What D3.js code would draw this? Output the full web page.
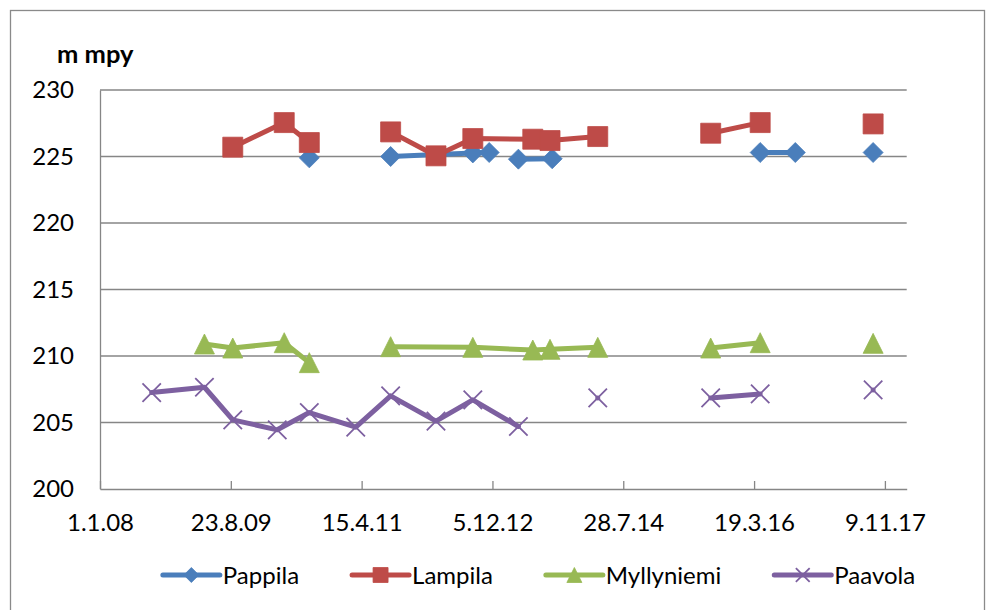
<!DOCTYPE html>
<html><head><meta charset="utf-8">
<script src="https://cdn.jsdelivr.net/npm/d3@7"></script>
<style>
html,body{margin:0;padding:0;background:#fff;}
svg text{font-family:Lato,"Liberation Sans",sans-serif;fill:#000;}
</style></head>
<body><svg id="c" width="990" height="610"></svg>
<script>
// ---- data ----
const seriesNames = ["Pappila","Lampila","Myllyniemi","Paavola"];
const seriesColors = ["#4A7EBB","#BE4B48","#98B954","#7D60A0"];
const xTickLabels = ["1.1.08","23.8.09","15.4.11","5.12.12","28.7.14","19.3.16","9.11.17"];
const yTicks = [200,205,210,215,220,225,230];
const yUnit = "m mpy";

const pappilaDates  = ["2010-08-18",null,"2011-08-26","2012-09-06","2012-11-20",null,"2013-04-03","2013-09-05",null,"2016-04-16","2016-09-24",null,"2017-09-16"];
const pappilaValues = [224.9,null,225.0,225.27,225.3,null,224.8,224.83,null,225.3,225.3,null,225.3];

const lampilaDates  = ["2009-09-01","2010-04-25","2010-08-18",null,"2011-08-26","2012-03-21","2012-09-06","2013-06-08","2013-08-26","2014-04-02",null,"2015-09-02","2016-04-16",null,"2017-09-16"];
const lampilaValues = [225.7,227.55,226.05,null,226.85,225.05,226.35,226.3,226.2,226.5,null,226.75,227.55,null,227.45];

const myllyniemiDates  = ["2009-04-24","2009-09-01","2010-04-25","2010-08-18",null,"2011-08-26","2012-09-06","2013-06-08","2013-08-26","2014-04-02",null,"2015-09-02","2016-04-16",null,"2017-09-16"];
const myllyniemiValues = [210.9,210.6,211.0,209.5,null,210.7,210.65,210.45,210.5,210.65,null,210.6,211.0,null,210.95];

const paavolaDates  = ["2008-08-25","2009-04-24","2009-09-01","2010-03-24","2010-08-18","2011-03-19","2011-08-26","2012-03-21","2012-09-06","2013-04-03",null,"2014-04-02",null,"2015-09-02","2016-04-16",null,"2017-09-16"];
const paavolaValues = [207.25,207.65,205.2,204.45,205.75,204.65,207.0,205.1,206.7,204.7,null,206.85,null,206.85,207.15,null,207.45];

// ---- build ----
const parseISO = d3.utcParse("%Y-%m-%d");
const parseTick = d3.utcParse("%d.%m.%y");
function zip(dates, values){ return dates.map((d,i)=>({d: d==null?null:parseISO(d), v: values[i]})); }
const series = [
  zip(pappilaDates, pappilaValues),
  zip(lampilaDates, lampilaValues),
  zip(myllyniemiDates, myllyniemiValues),
  zip(paavolaDates, paavolaValues)
];

const svg = d3.select("#c");
const plot = {left:100, right:906.7, top:90, bottom:489};
const FS = 24;

// outer frame
svg.append("rect").attr("x",10.5).attr("y",10.5).attr("width",974).attr("height",610)
  .attr("fill","none").attr("stroke","#8a8a8a").attr("stroke-width",1.3);

const tickDates = xTickLabels.map(parseTick);
const x0 = tickDates[0];
const x = d3.scaleUtc().domain([x0, d3.utcDay.offset(x0, 3700)]).range([plot.left, plot.right]);
const y = d3.scaleLinear().domain([200,230]).range([plot.bottom, plot.top]);

const grid = "#868686";
// gridlines
svg.append("g").selectAll("line").data(yTicks.filter(t=>t>200)).join("line")
  .attr("x1",plot.left).attr("x2",plot.right)
  .attr("y1",d=>y(d)).attr("y2",d=>y(d))
  .attr("stroke",grid).attr("stroke-width",1.3);

// y axis
const yAxis = svg.append("g").attr("transform",`translate(${plot.left},0)`)
  .call(d3.axisLeft(y).tickValues(yTicks).tickSize(0).tickPadding(26).tickFormat(d3.format("d")));
yAxis.select(".domain").attr("stroke",grid).attr("stroke-width",1.3);
yAxis.selectAll("text").attr("font-size",FS).attr("font-family","Lato");

// x axis
const xAxis = svg.append("g").attr("transform",`translate(0,${plot.bottom})`)
  .call(d3.axisBottom(x).tickValues(tickDates).tickSizeInner(-8).tickSizeOuter(0).tickPadding(25)
    .tickFormat((d,i)=>xTickLabels[i]));
xAxis.select(".domain").attr("stroke",grid).attr("stroke-width",1.3);
xAxis.selectAll(".tick line").attr("stroke",grid).attr("stroke-width",1.3);
xAxis.selectAll("text").attr("font-size",FS).attr("font-family","Lato");

// unit title
svg.append("text").attr("x",57).attr("y",63).attr("font-size",25.5).attr("font-weight","bold").text(yUnit);

// markers
function markerPath(type, s){
  const h = s/2;
  if(type===0) return `M0,${-h}L${h},0L0,${h}L${-h},0Z`;
  if(type===1) return `M${-h},${-h}H${h}V${h}H${-h}Z`;
  if(type===2) return `M0,${-h}L${h},${h}L${-h},${h}Z`;
  const k = h*0.92;
  return `M${-k},${-k}L${k},${k}M${-k},${k}L${k},${-k}`;
}
function drawMarker(g, type, color, s){
  if(type===3){
    g.append("path").attr("d",markerPath(3,s)).attr("stroke",color).attr("stroke-width",1.8).attr("fill","none");
  } else {
    g.append("path").attr("d",markerPath(type,s)).attr("fill",color).attr("stroke",color).attr("stroke-width",0.8);
  }
}

const line = d3.line().defined(p=>p.v!=null).x(p=>x(p.d)).y(p=>y(p.v));
series.forEach((data,si)=>{
  const g = svg.append("g");
  g.append("path").attr("d",line(data)).attr("fill","none")
    .attr("stroke",seriesColors[si]).attr("stroke-width",5)
    .attr("stroke-linejoin","round").attr("stroke-linecap","round");
  data.filter(p=>p.v!=null).forEach(p=>{
    const m = g.append("g").attr("transform",`translate(${x(p.d)},${y(p.v)})`);
    drawMarker(m, si, seriesColors[si], 20);
  });
});

// legend
const legY = 575, lineLen = 57, textGap = 3, itemGap = 53;
const leg = svg.append("g");
let cx = 0;
seriesNames.forEach((name,i)=>{
  const g = leg.append("g").attr("transform",`translate(${cx},${legY})`);
  g.append("line").attr("x1",0).attr("x2",lineLen).attr("y1",0).attr("y2",0)
    .attr("stroke",seriesColors[i]).attr("stroke-width",5).attr("stroke-linecap","round");
  const m = g.append("g").attr("transform",`translate(${lineLen/2},0)`);
  drawMarker(m, i, seriesColors[i], 15);
  const t = g.append("text").attr("x",lineLen+textGap).attr("y",0).attr("dy","0.36em")
    .attr("font-size",FS).text(name);
  const w = lineLen + textGap + t.node().getComputedTextLength();
  cx += w + itemGap;
});
const total = cx - itemGap;
leg.attr("transform",`translate(${539 - total/2},0)`);
</script>
</body></html>
